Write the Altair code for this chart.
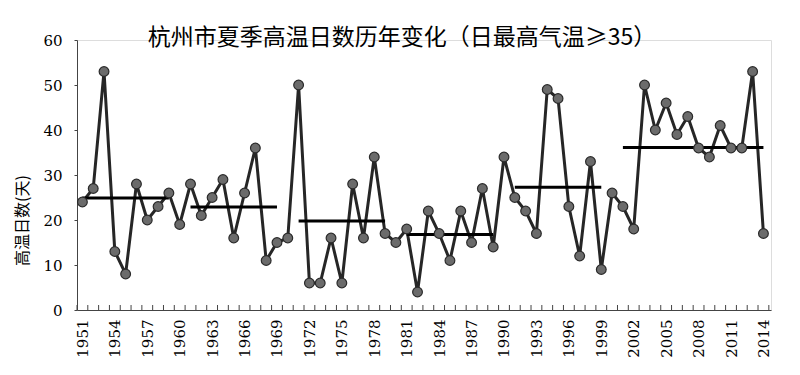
import altair as alt
import pandas as pd

years = list(range(1951, 2015))
days = [24, 27, 53, 13, 8, 28, 20, 23, 26, 19,
        28, 21, 25, 29, 16, 26, 36, 11, 15, 16,
        50, 6, 6, 16, 6, 28, 16, 34, 17, 15,
        18, 4, 22, 17, 11, 22, 15, 27, 14, 34,
        25, 22, 17, 49, 47, 23, 12, 33, 9, 26,
        23, 18, 50, 40, 46, 39, 43, 36, 34, 41,
        36, 36, 53, 17]

seg_start = [1951, 1961, 1971, 1981, 1991, 2001]
seg_end = [1959, 1969, 1979, 1989, 1999, 2014]
seg_mean = [24.9, 22.9, 19.8, 16.8, 27.3, 36.1]

label_years = list(range(1951, 2015, 3))
tick_pos = [y + 0.5 for y in range(1950, 2015)]

df = pd.DataFrame({"year": years, "days": days})
seg = pd.DataFrame({"s": seg_start, "e": seg_end, "m": seg_mean})
ticks = pd.DataFrame({"t": tick_pos})

W, H = 694, 270
serif = "DejaVu Serif"

xscale = alt.Scale(domain=[1950.5, 2014.7], nice=False, zero=False)
yscale = alt.Scale(domain=[0, 60], nice=False)

xaxis = alt.Axis(values=label_years, format="d", labelAngle=270, labelAlign="right",
                 labelBaseline="middle", labelPadding=9, ticks=False, grid=False,
                 labelOverlap=False, labelFlush=False, labelBound=False,
                 labelFont=serif, labelFontSize=15, labelColor="#000",
                 domainColor="#444", domainWidth=1, title=None)
yaxis = alt.Axis(values=[0, 10, 20, 30, 40, 50, 60], grid=False, labelFont=serif,
                 labelFontSize=15, labelColor="#000", domainColor="#444",
                 labelOverlap=False, labelFlush=False,
                 tickSize=3, tickColor="#444", labelPadding=12,
                 title="高温日数(天)", titleFont="Noto Sans CJK SC",
                 titleFontSize=16, titleFontWeight="normal", titleColor="#000",
                 titleAngle=270, titleX=-47, titleY=180)

base = alt.Chart(df)

tk = alt.Chart(ticks).mark_rule(color="#444", strokeWidth=1).encode(
    x=alt.X("t:Q", scale=xscale, axis=xaxis),
    y=alt.value(H),
    y2=alt.value(H - 5),
)
line = base.mark_line(color="#262626", strokeWidth=3).encode(
    x=alt.X("year:Q", scale=xscale, axis=xaxis),
    y=alt.Y("days:Q", scale=yscale, axis=yaxis),
)
pts = base.mark_point(filled=True, fill="#6b6b6b", stroke="#2a2a2a", strokeWidth=1.2,
                      size=95, opacity=1).encode(
    x=alt.X("year:Q", scale=xscale, axis=xaxis),
    y=alt.Y("days:Q", scale=yscale, axis=yaxis),
)
means = alt.Chart(seg).mark_rule(color="#000", strokeWidth=3).encode(
    x=alt.X("s:Q", scale=xscale, axis=xaxis),
    x2="e:Q",
    y=alt.Y("m:Q", scale=yscale, axis=yaxis),
)

chart = alt.layer(tk, line, means, pts).properties(
    width=W, height=H,
    title=alt.TitleParams("杭州市夏季高温日数历年变化（日最高气温≥35）",
                          font="Noto Sans CJK SC", fontSize=23, fontWeight="normal",
                          color="#000", anchor="middle", dx=-22, offset=-17),
    autosize=alt.AutoSizeParams(type="none"),
    padding={"left": 69, "top": 32, "right": 20, "bottom": 57},
).configure_view(stroke=None).configure(background="white")

chart.save("out.html", embed_options={"renderer": "svg", "actions": False})
